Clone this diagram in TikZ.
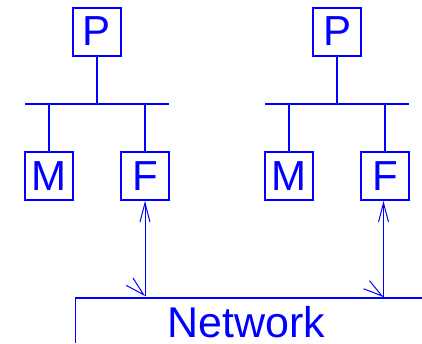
\documentclass[tikz,border=0pt]{standalone}
\usepackage{fontspec}
\setmainfont{Liberation Sans}
\usetikzlibrary{arrows.meta,calc}
\definecolor{netblue}{RGB}{0,0,255}
\tikzset{
  unit/.style={draw=netblue, line width=2pt, minimum width=48pt, minimum height=48pt,
    inner sep=0pt, text=netblue, font=\fontsize{42}{42}\selectfont},
  bus/.style={draw=netblue, line width=2pt},
  link/.style={draw=netblue, line width=1pt},
  tipv/.style={-{Straight Barb[length=19pt,width=10pt]}, draw=netblue, line width=1pt},
}
\begin{document}
\begin{tikzpicture}[x=1pt,y=-1pt]
\useasboundingbox (0,0) rectangle (422,343);

% left station
\node[unit] (P1) at (97,31.5) {P};
\node[unit] (M1) at (49,176) {M};
\node[unit] (F1) at (145,176) {F};
\coordinate (B1l) at (25,104);
\coordinate (B1r) at (169,104);
\draw[bus] (B1l) -- (B1r);
\draw[bus] (P1.south) -- (P1.south |- B1l);
\draw[bus] (M1.north) -- (M1.north |- B1l);
\draw[bus] (F1.north) -- (F1.north |- B1l);

% right station
\node[unit] (P2) at (337,31.5) {P};
\node[unit] (M2) at (289,176) {M};
\node[unit] (F2) at (385,176) {F};
\coordinate (B2l) at (265,104);
\coordinate (B2r) at (409,104);
\draw[bus] (B2l) -- (B2r);
\draw[bus] (P2.south) -- (P2.south |- B2l);
\draw[bus] (M2.north) -- (M2.north |- B2l);
\draw[bus] (F2.north) -- (F2.north |- B2l);

% network
\coordinate (Nl) at (75.5,298);
\coordinate (Nr) at (422,298);
\coordinate (Nb) at (75.5,343);
\draw[link, line width=1.6pt] (Nr) -- (Nl) -- (Nb);
\node[text=netblue, font=\fontsize{43}{43}\selectfont, anchor=base, inner sep=0pt]
  (net) at (246,337) {Network};

% links between file servers and network
\coordinate (T1) at (145,296);
\coordinate (T2) at (383.5,297);
\draw[tipv] (T1) -- (T1 |- F1.south);
\draw[tipv] (T2) -- (T2 |- F2.south);
% slanted heads where the links meet the network
\draw[tipv] ($(T1)+(-1.45,-1.35)$) -- (T1);
\draw[tipv] ($(T2)+(-1.45,-1.05)$) -- (T2);
\end{tikzpicture}
\end{document}
